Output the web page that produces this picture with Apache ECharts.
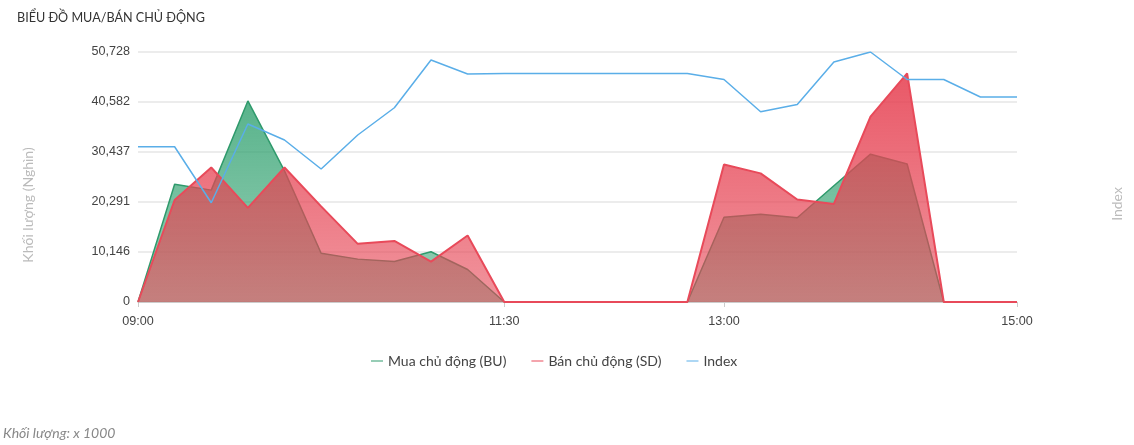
<!DOCTYPE html>
<html>
<head>
<meta charset="utf-8">
<script src="https://cdn.jsdelivr.net/npm/echarts@6/dist/echarts.min.js"></script>
<style>
  html, body { margin: 0; padding: 0; background: #fff; }
  #chart { width: 1134px; height: 445px; }
</style>
</head>
<body>
<div id="chart"></div>
<script>
  // moc 15 phut
  var times = ['09:00','09:15','09:30','09:45','10:00','10:15','10:30','10:45','11:00','11:15','11:30',
    '11:45','12:00','12:15','12:30','12:45','13:00','13:15','13:30','13:45','14:00','14:15','14:30','14:45','15:00']
  var shownLabels = ['09:00','11:30','13:00','15:00']
  var buValues = [0, 23900, 22700, 40800, 26600, 9900, 8700, 8200, 10200, 6600, 0,
    0, 0, 0, 0, 0, 17200, 17800, 17100, 23600, 30000, 28000, 0, 0, 0]
  var sdValues = [0, 20700, 27300, 19100, 27300, 19400, 11800, 12400, 8200, 13500, 0,
    0, 0, 0, 0, 0, 27900, 26100, 20800, 19900, 37600, 46400, 0, 0, 0]
  var indexValues = [1262.1, 1262.1, 1239.7, 1271.2, 1264.8, 1253.2, 1266.8, 1277.7, 1296.8, 1291.2, 1291.4,
    1291.4, 1291.4, 1291.4, 1291.4, 1291.4, 1289.0, 1276.1, 1279.0, 1296.0, 1300.0, 1289.0, 1289.0, 1282.0, 1282.0]
  var volMax = 50728

  var chart = echarts.init(document.getElementById('chart'))
  function showLabel(i) { return shownLabels.indexOf(times[i]) >= 0 }
  function grad(c1, c2) {
    return new echarts.graphic.LinearGradient(0, 0, 0, 1, [{ offset: 0, color: c1 }, { offset: 1, color: c2 }])
  }
  var option = {
    animation: false,
    title: [
      {
        text: 'BIỂU ĐỒ MUA/BÁN CHỦ ĐỘNG',
        left: 12, top: 6,
        textStyle: { fontFamily: 'Lato', fontSize: 12.6, fontWeight: 'normal', color: '#333' }
      },
      {
        text: 'Khối lượng: x 1000',
        left: -2, top: 421,
        textStyle: { fontFamily: 'Lato', fontSize: 14, fontWeight: 'normal', fontStyle: 'italic', color: '#888' }
      }
    ],
    legend: {
      left: 366, top: 349,
      itemGap: 25,
      itemWidth: 12, itemHeight: 1,
      icon: 'rect',
      textStyle: { fontFamily: 'Lato', fontSize: 14, color: '#444' },
      data: ['Mua chủ động (BU)', 'Bán chủ động (SD)', 'Index']
    },
    grid: { left: 138, right: 117, top: 52, bottom: 143 },
    xAxis: {
      type: 'category',
      data: times,
      boundaryGap: false,
      axisLine: { lineStyle: { color: '#ccc' } },
      axisTick: { show: true, length: 5, interval: function (i) { return showLabel(i) }, lineStyle: { color: '#ccc' } },
      axisLabel: {
        interval: function (i) { return showLabel(i) },
        color: '#444', fontFamily: 'Liberation Sans', fontSize: 12.6, margin: 13
      }
    },
    yAxis: [
      {
        type: 'value',
        min: 0, max: volMax, interval: volMax / 5,
        name: 'Khối lượng (Nghìn)',
        nameLocation: 'middle',
        nameRotate: 90,
        nameGap: 103,
        nameTextStyle: { color: '#bbb', fontFamily: 'Lato', fontSize: 14, padding: [0, 56, 0, 0] },
        axisLine: { show: false },
        axisTick: { show: false },
        axisLabel: {
          color: '#444', fontFamily: 'Liberation Sans', fontSize: 12.6, margin: 8,
          formatter: function (v) { return Math.round(v).toLocaleString('en-US') }
        },
        splitLine: { lineStyle: { color: '#e6e6e6', width: 1.5 } }
      },
      {
        type: 'value',
        min: 1200, max: 1300,
        name: 'Index',
        nameLocation: 'middle',
        nameRotate: 90,
        nameGap: 93,
        nameTextStyle: { color: '#bbb', fontFamily: 'Lato', fontSize: 14, padding: [0, 54, 0, 0] },
        axisLine: { show: false },
        axisTick: { show: false },
        axisLabel: { show: false },
        splitLine: { show: false }
      }
    ],
    series: [
      {
        name: 'Mua chủ động (BU)',
        type: 'line',
        data: buValues,
        showSymbol: false,
        z: 2,
        lineStyle: { color: '#2f9a6c', width: 1.5 },
        itemStyle: { color: '#2f9a6c' },
        areaStyle: { opacity: 1, color: grad('rgba(47,160,110,0.8)', 'rgba(47,160,110,0.5)') }
      },
      {
        name: 'Bán chủ động (SD)',
        type: 'line',
        data: sdValues,
        showSymbol: false,
        z: 3,
        lineStyle: { color: '#e84a5a', width: 2 },
        itemStyle: { color: '#e84a5a' },
        areaStyle: { opacity: 1, color: grad('rgba(230,65,82,0.88)', 'rgba(230,70,85,0.58)') }
      },
      {
        name: 'Index',
        type: 'line',
        yAxisIndex: 1,
        data: indexValues,
        showSymbol: false,
        z: 5,
        lineStyle: { color: '#5aaee8', width: 1.5 },
        itemStyle: { color: '#5aaee8' }
      }
    ]
  }
  chart.setOption(option)
</script>
</body>
</html>
